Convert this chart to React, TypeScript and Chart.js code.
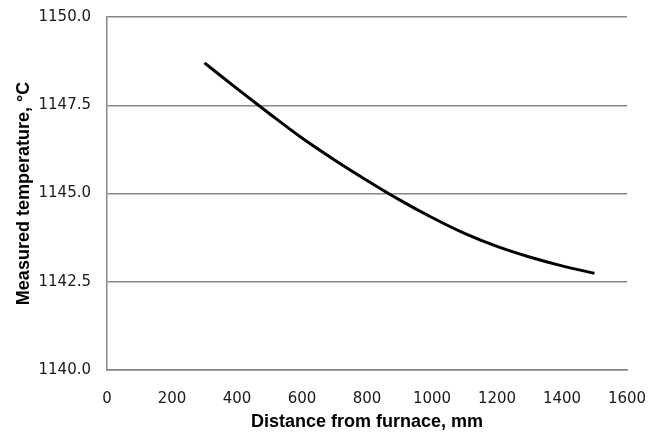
import React, { useEffect, useRef } from "react";
import { Chart, registerables } from "chart.js";

Chart.register(...registerables);

const distances = [300, 400, 500, 600, 700, 800, 900, 1000, 1100, 1200, 1300, 1400, 1500];
const temperatures = [1148.7, 1147.97, 1147.26, 1146.57, 1145.95, 1145.37, 1144.82, 1144.32, 1143.87, 1143.5, 1143.2, 1142.95, 1142.74];
const xTitle = "Distance from furnace, mm";
const yTitle = "Measured temperature, °C";

export default function App() {
  const ref = useRef<HTMLCanvasElement>(null);
  useEffect(() => {
    document.body.style.margin = "0";
    const ctx = ref.current!;
    const chart = new Chart(ctx, {
      type: "line",
      data: {
        datasets: [
          {
            data: distances.map((d, i) => ({ x: d, y: temperatures[i] })),
            borderColor: "#000000",
            borderWidth: 3,
            pointRadius: 0,
            cubicInterpolationMode: "monotone",
            fill: false,
          },
        ],
      },
      options: {
        responsive: false,
        animation: false,
        devicePixelRatio: 1,
        layout: { padding: { top: 17, right: 30, bottom: 0, left: 0 } },
        plugins: { legend: { display: false }, tooltip: { enabled: false } },
        scales: {
          x: {
            type: "linear",
            min: 0,
            max: 1600,
            ticks: {
              stepSize: 200,
              padding: 20,
              color: "#1a1a1a",
              font: { family: "DejaVu Sans", size: 15 },
              maxRotation: 0,
              callback: (v: any) => String(v),
            },
            grid: { display: false, drawTicks: false },
            border: { display: true, color: "#868686", width: 1.5 },
            title: {
              display: true,
              text: xTitle,
              color: "#000000",
              font: { family: "Liberation Sans", size: 18, weight: "bold" },
              padding: { top: 0, bottom: 1 },
            },
            afterFit: (scale: any) => {
              scale.height = 64;
              scale.paddingLeft = 0;
              scale.paddingRight = 0;
            },
          },
          y: {
            min: 1140,
            max: 1150,
            ticks: {
              stepSize: 2.5,
              padding: 16,
              color: "#1a1a1a",
              font: { family: "DejaVu Sans", size: 15 },
              callback: (v: any) => Number(v).toFixed(1),
            },
            grid: { color: "#868686", lineWidth: 1.5, drawTicks: false },
            border: { display: true, color: "#868686", width: 1.5 },
            title: {
              display: true,
              text: yTitle,
              color: "#000000",
              font: { family: "Liberation Sans", size: 18, weight: "bold" },
              padding: { top: 13, bottom: 0 },
            },
            afterFit: (scale: any) => {
              scale.width = 107;
              scale.paddingTop = 0;
              scale.paddingBottom = 0;
            },
          },
        },
      },
    });
    return () => chart.destroy();
  }, []);
  return (
    <div style={{ position: "absolute", left: 0, top: 0, width: 657, height: 434, background: "#ffffff" }}>
      <canvas ref={ref} width={657} height={434} style={{ width: 657, height: 434 }} />
    </div>
  );
}
